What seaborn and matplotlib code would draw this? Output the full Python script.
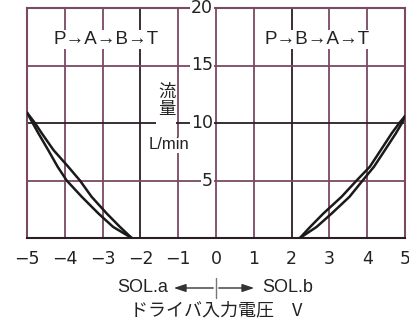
import matplotlib
matplotlib.use("Agg")
import matplotlib.pyplot as plt
import matplotlib.transforms as mtransforms
from matplotlib.patches import Rectangle, FancyArrowPatch
from matplotlib.lines import Line2D
import seaborn as sns

# Flow curves: driver input voltage (V) vs flow (L/min)
# SOL.a side (P→A→B→T), two branches of the hysteresis loop
sola_upper_v = [-5.0, -4.79, -4.61, -4.30, -3.91, -3.60, -3.29, -2.89, -2.54, -2.23]
sola_upper_q = [10.9, 10.0, 9.11, 7.65, 6.2, 5.0, 3.58, 2.13, 0.96, 0.0]
sola_lower_v = [-5.0, -4.85, -4.70, -4.44, -4.19, -3.95, -3.55, -3.11, -2.72, -2.23]
sola_lower_q = [10.9, 10.0, 9.11, 7.65, 6.2, 5.0, 3.58, 2.13, 0.96, 0.0]

# SOL.b side (P→B→A→T)
solb_upper_v = [2.22, 2.49, 2.84, 3.32, 3.72, 4.07, 4.36, 4.65, 4.85, 5.0]
solb_upper_q = [0.0, 0.96, 2.13, 3.58, 5.0, 6.2, 7.65, 9.11, 10.0, 10.6]
solb_lower_v = [2.22, 2.66, 3.06, 3.53, 3.88, 4.18, 4.47, 4.76, 4.92, 5.0]
solb_lower_q = [0.0, 0.96, 2.13, 3.58, 5.0, 6.2, 7.65, 9.11, 10.0, 10.6]

x_ticks = [-5, -4, -3, -2, -1, 0, 1, 2, 3, 4, 5]
y_ticks = [5, 10, 15, 20]
x_dark = [-2, 2]
y_dark = [10]

sns.set_theme(style="white")
plt.rcParams["font.family"] = ["Liberation Sans", "DejaVu Sans", "Noto Sans CJK JP"]

GRID = "#7a4a62"
DARK = "#2a1e25"
INK = "#222222"

fig = plt.figure(figsize=(4.09, 3.22), dpi=100)
ax = fig.add_axes([27 / 409, 1 - 238 / 322, 378 / 409, 230 / 322])
ax.set_xlim(-5, 5)
ax.set_ylim(0, 20)

# grid
for xv in x_ticks[1:-1]:
    ax.axvline(xv, color=DARK if xv in x_dark else GRID, lw=1.3, zorder=1)
for yv in y_ticks[:-1]:
    ax.axhline(yv, color=DARK if yv in y_dark else GRID, lw=1.3, zorder=1)

for side in ["left", "right", "top"]:
    ax.spines[side].set_color(GRID)
    ax.spines[side].set_linewidth(1.5)
ax.spines["bottom"].set_color(DARK)
ax.spines["bottom"].set_linewidth(1.5)

# curves
for xs, ys in [(sola_upper_v, sola_upper_q), (sola_lower_v, sola_lower_q),
               (solb_upper_v, solb_upper_q), (solb_lower_v, solb_lower_q)]:
    sns.lineplot(x=xs, y=ys, ax=ax, color="#1a1a1a", lw=1.8, sort=False,
                 estimator=None, zorder=4)

# x tick labels
ax.set_xticks(x_ticks)
ax.set_xticklabels([str(v).replace("-", "\u2212") for v in x_ticks], fontsize=12.5,
                   family=["DejaVu Sans"])
ax.tick_params(axis="x", length=0, pad=9, colors=INK)
ax.set_yticks([])
ax.set_xlabel("")
ax.set_ylabel("")

# y tick labels at the centre line
offs = ax.transData + mtransforms.ScaledTranslation(-3 / 100, 0, fig.dpi_scale_trans)
for yv in y_ticks:
    ax.text(0, yv, str(yv), transform=offs, ha="right", va="center", fontsize=12.5,
            family=["DejaVu Sans"], color=INK, zorder=5, clip_on=False,
            bbox=dict(facecolor="white", edgecolor="none", pad=0.6))

# axis label in the plot
ax.add_patch(Rectangle((-1.6, 9.7), 0.55, 0.6, facecolor="white", edgecolor="none", zorder=2))
ax.text(-1.3, 12.0, "流\n量", ha="center", va="center", fontsize=12.5,
        family=["Noto Sans CJK JP"], linespacing=0.95, color=INK, zorder=5,
        bbox=dict(facecolor="white", edgecolor="none", pad=0.5))
ax.text(-1.24, 8.1, "L/min", ha="center", va="center", fontsize=12, color=INK,
        zorder=5, bbox=dict(facecolor="white", edgecolor="none", pad=0.5))

# flow path labels
for xv, label in [(-2.91, "P→A→B→T"), (2.67, "P→B→A→T")]:
    ax.text(xv, 17.25, label, ha="center", va="center", fontsize=13.5,
            family=["Liberation Sans", "DejaVu Sans"], color=INK, zorder=5,
            bbox=dict(facecolor="white", edgecolor="none", pad=0.5))

# solenoid direction indicator
def fx(px):
    return px / 409

def fy(py):
    return 1 - py / 322

fig.text(fx(168), fy(288), "SOL.a", ha="right", va="center", fontsize=13, color=INK)
fig.text(fx(262), fy(288), "SOL.b", ha="left", va="center", fontsize=13, color=INK)
arrow_kw = dict(arrowstyle="-|>,head_length=0.6,head_width=0.2", color="#333333", lw=1.0,
                mutation_scale=12, transform=fig.transFigure)
fig.add_artist(FancyArrowPatch((fx(216), fy(288)), (fx(171), fy(288)), **arrow_kw))
fig.add_artist(FancyArrowPatch((fx(216), fy(288)), (fx(257), fy(288)), **arrow_kw))
fig.add_artist(Line2D([fx(216), fx(216)], [fy(278), fy(298)],
                      transform=fig.transFigure, color="#777777", lw=1.0))
fig.text(fx(216), fy(310), "ドライバ入力電圧\u3000V", ha="center", va="center", fontsize=13,
         family=["Noto Sans CJK JP"], color=INK)

fig.savefig("out.png", dpi=100)
